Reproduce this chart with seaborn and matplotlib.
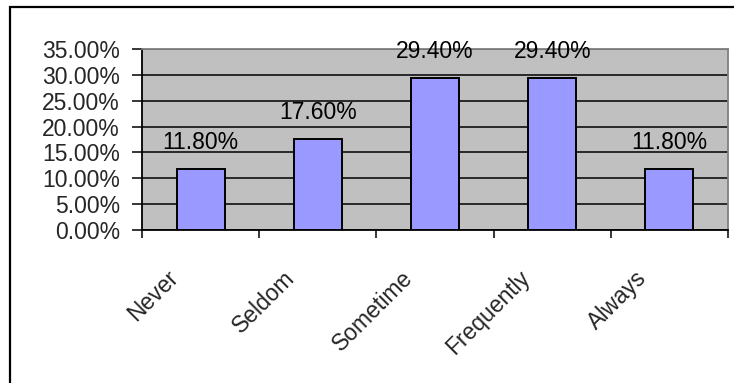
import matplotlib
matplotlib.use("Agg")
import matplotlib.pyplot as plt
import matplotlib.transforms as mtransforms
from matplotlib.patches import Rectangle
from matplotlib.ticker import FuncFormatter, FixedLocator
import seaborn as sns
import pandas as pd

# Survey response frequencies (percent of respondents)
categories = ["Never", "Seldom", "Sometime", "Frequently", "Always"]
percentages = [11.8, 17.6, 29.4, 29.4, 11.8]
y_ticks = [0, 5, 10, 15, 20, 25, 30, 35]

df = pd.DataFrame({"response": categories, "percent": percentages})

sns.set_theme(style="white")
plt.rcParams["font.family"] = ["Liberation Sans", "DejaVu Sans"]

fig = plt.figure(figsize=(7.34, 3.83), dpi=100)
fig.patch.set_facecolor("white")

# outer chart border (extends past right/bottom edges)
fig.patches.append(Rectangle((10 / 734, -0.05), 1.2, 1 + 0.05 - 7 / 383,
                             transform=fig.transFigure, fill=False,
                             edgecolor="black", linewidth=1.6, zorder=0))

ax = fig.add_axes([142 / 734, 1 - 230 / 383, (728 - 142) / 734, (230 - 49) / 383])
ax.set_facecolor("#C0C0C0")

sns.barplot(data=df, x="response", y="percent", order=categories,
            color="#9999FF", edgecolor="black", linewidth=1.4,
            width=0.41, saturation=1, ax=ax, zorder=3)

ax.set_xlim(-0.5, len(categories) - 0.5)
ax.set_ylim(0, 35)
ax.set_xlabel("")
ax.set_ylabel("")

# horizontal grid
ax.set_axisbelow(True)
ax.yaxis.set_major_locator(FixedLocator(y_ticks))
ax.yaxis.set_major_formatter(FuncFormatter(lambda v, p: f"{v:.2f}%"))
ax.grid(axis="y", color="black", linewidth=1.1)
ax.grid(axis="x", visible=False)

for side in ("left", "bottom"):
    ax.spines[side].set_color("black")
    ax.spines[side].set_linewidth(1.3)
for side in ("top", "right"):
    ax.spines[side].set_color("#808080")
    ax.spines[side].set_linewidth(1.3)

ax.tick_params(axis="y", which="major", direction="out", length=7, width=1.1,
               color="black", labelsize=16.5, pad=9, left=True)

# tick marks at category boundaries, labels at category centres
ax.xaxis.set_minor_locator(FixedLocator([i - 0.5 for i in range(len(categories) + 1)]))
ax.tick_params(axis="x", which="minor", direction="out", length=6, width=1.1,
               color="black", bottom=True)
ax.tick_params(axis="x", which="major", length=0, labelsize=16.5, pad=26)
shift = mtransforms.ScaledTranslation(-18 / 100, 0, fig.dpi_scale_trans)
for lab in ax.get_xticklabels():
    lab.set_rotation(45)
    lab.set_ha("right")
    lab.set_va("top")
    lab.set_transform(lab.get_transform() + shift)

# value labels above bars
for i, v in enumerate(percentages):
    ax.annotate(f"{v:.2f}%", (i, v), xytext=(0, 26), textcoords="offset pixels",
                ha="center", va="center", fontsize=16.5, color="black",
                annotation_clip=False, zorder=5)

fig.savefig("out.png", dpi=100, facecolor="white")
